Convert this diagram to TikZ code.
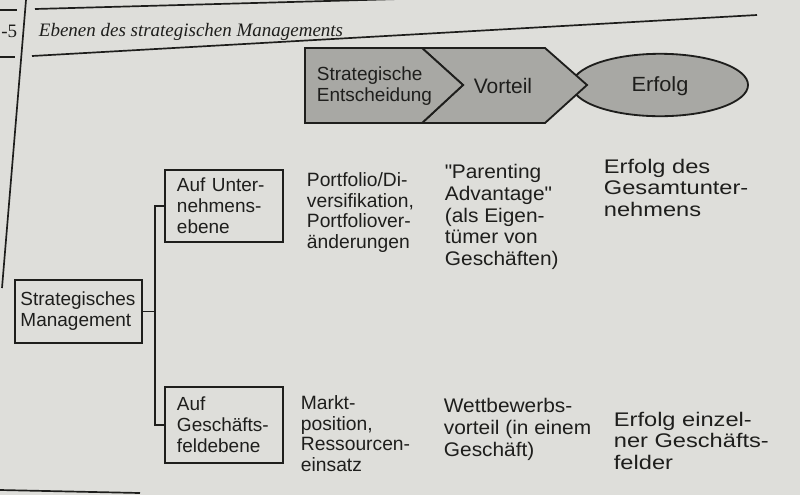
\documentclass[tikz,border=0pt]{standalone}
\usepackage{fontspec}
\setmainfont{Liberation Sans}
\newfontfamily\figserif{Liberation Serif}
\newfontfamily\midsans[FakeStretch=1.06]{Liberation Sans}
\newfontfamily\widesans[FakeStretch=1.2]{Liberation Sans}
\definecolor{paper}{RGB}{222, 222, 218}
\definecolor{ink}{RGB}{30, 30, 28}
\definecolor{shade}{RGB}{168, 168, 164}
\tikzstyle{levels} = [
  x=0.025cm,
  y=-0.025cm,
  line width=1.3pt,
  color=ink,
  font=\fontsize{13.5}{15}\selectfont,
]
\tikzstyle{levelbox} = [
  draw,
  align=left,
  inner xsep=0.3cm,
  text width=2.35cm,
]
\tikzstyle{cell} = [
  anchor=north west,
  align=left,
  inner sep=0pt,
]
\tikzstyle{near} = [font=\fontsize{13.7}{14.6}\selectfont]
\tikzstyle{middle} = [font=\midsans\fontsize{14}{15.6}\selectfont]
\tikzstyle{far} = [font=\widesans\fontsize{14}{15.4}\selectfont]

\begin{document}
\begin{tikzpicture}[levels]
            \useasboundingbox (0,0) rectangle (800,495);
            \fill[paper] (0,0) rectangle (800,495);

            % Page header
            \begin{scope}[line width=1.2pt]
                \draw (26,0) -- (2,288);
                \draw (0,10) -- (17,10);
                \draw (0,57) -- (15,57);
                \draw (35,9) -- (400,-1);
                \draw (32,56) -- (757,15);
                \draw (0,490) -- (140,493);
            \end{scope}
            \node[anchor=base west, inner sep=0pt] (fignum) at (0.5,37) {\figserif -5};
            \node[anchor=base west, inner sep=0pt] (title) at (38,36)
                {\figserif\itshape Ebenen des strategischen Managements};

            % Chain: decision, advantage, success
            \draw[fill=shade] (660,85) ellipse (2.2cm and 0.78cm);
            \draw[fill=shade] (422,48) -- (545,48) -- (587,85) -- (545,123)
                -- (422,123) -- (463,85) -- cycle;
            \draw[fill=shade] (305,48) -- (422,48) -- (463,85) -- (422,123)
                -- (305,123) -- cycle;
            \node[anchor=west, align=left, inner sep=0pt] (decision) at (316,86)
                {Strategische\\Entscheidung};
            \node[font=\fontsize{14.9}{16}\selectfont] (advantage) at (503,86) {Vorteil};
            \node[font=\midsans\fontsize{14.6}{16}\selectfont] (success) at (660,86) {Erfolg};

            % Levels
            \node[levelbox, inner xsep=0.14cm, text width=2.9cm, minimum height=1.575cm]
                (mgmt) at (78.5,311.5) {Strategisches\\Management};
            \node[levelbox, minimum height=1.8cm] (corp) at (224,206)
                {Auf Unter-\\nehmens-\\ebene};
            \node[levelbox, minimum height=1.9cm] (biz) at (224,425)
                {Auf\\Geschäfts-\\feldebene};
            \coordinate (fork) at (155,311.5);
            \draw (mgmt.east) -- (fork);
            \draw (corp.west) -| (fork) |- (biz.west);

            % Columns
            \node[cell, near] (corpmove) at (306,172)
                {Portfolio/Di-\\versifikation,\\Portfoliover-\\änderungen};
            \node[cell, middle] (corpedge) at (444,163)
                {\textquotedbl Parenting\\Advantage\textquotedbl\\(als Eigen-\\tümer von\\Geschäften)};
            \node[cell, far] (corpgain) at (603,158)
                {Erfolg des\\Gesamtunter-\\nehmens};
            \node[cell, near] (bizmove) at (300,395)
                {Markt-\\position,\\Ressourcen-\\einsatz};
            \node[cell, middle] (bizedge) at (443,397)
                {Wettbewerbs-\\vorteil (in einem\\Geschäft)};
            \node[cell, far] (bizgain) at (613,411)
                {Erfolg einzel-\\ner Geschäfts-\\felder};
          \end{tikzpicture}
\end{document}
